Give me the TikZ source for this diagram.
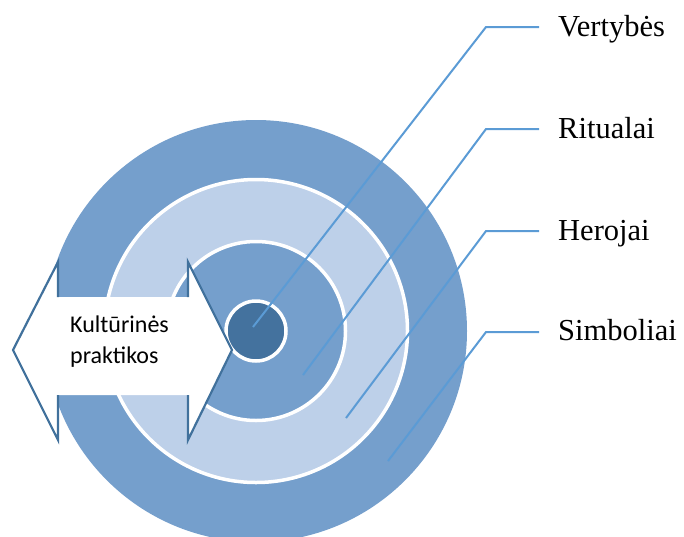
\documentclass[tikz,border=0pt]{standalone}
\usepackage{fontspec}
\setmainfont{Liberation Serif}
\newfontfamily\calfont{Carlito}
\definecolor{ringdark}{HTML}{759FCC}
\definecolor{ringlight}{HTML}{BDD0E9}
\definecolor{coreblue}{HTML}{44729E}
\definecolor{edgeblue}{HTML}{41719C}
\definecolor{leader}{HTML}{5B9BD5}
\tikzset{
  ring/.style={draw=white, line width=3.5pt},
  leaderline/.style={draw=leader, line width=2pt},
  layerlabel/.style={anchor=base west, inner sep=0pt, font=\fontsize{30.5}{36}\selectfont},
}
\begin{document}
\begin{tikzpicture}[x=1pt,y=-1pt]
  \useasboundingbox (0,0) rectangle (684,536);
  \clip (0,0) rectangle (684,536);
  % concentric layers
  \coordinate (c) at (256,331);
  \fill[ringdark] (c) circle (211);
  \path[ring, fill=ringlight] (c) circle (151.5);
  \path[ring, fill=ringdark] (c) circle (89.5);
  \path[ring, fill=coreblue] (c) circle (30);
  % double arrow with outlined heads
  \coordinate (aL) at (13,350);
  \coordinate (aR) at (232,350);
  \coordinate (lt) at (58,262);  \coordinate (lb) at (58,440);
  \coordinate (rt) at (188,262); \coordinate (rb) at (188,440);
  \coordinate (lbt) at (58,297); \coordinate (lbb) at (58,395);
  \coordinate (rbt) at (188,297); \coordinate (rbb) at (188,395);
  \fill[white] (aL) -- (lt) -- (lbt) -- (rbt) -- (rt) -- (aR) -- (rb) -- (rbb) -- (lbb) -- (lb) -- cycle;
  \draw[edgeblue, line width=2.2pt, line join=miter]
    (lbt) -- (lt) -- (aL) -- (lb) -- (lbb);
  \draw[edgeblue, line width=2.2pt, line join=miter]
    (rbt) -- (rt) -- (aR) -- (rb) -- (rbb);
  \node[anchor=base west, inner sep=0pt, align=left,
        font=\calfont\fontsize{24}{31}\selectfont] (kp) at (70,363)
    {Kultūrinės\\praktikos};
  % labels
  \node[layerlabel] (lv) at (558,36) {Vertybės};
  \node[layerlabel] (lr) at (558,138) {Ritualai};
  \node[layerlabel] (lh) at (558,240) {Herojai};
  \node[layerlabel] (ls) at (558,340) {Simboliai};
  % leader lines
  \coordinate (v0) at (253,327); \coordinate (v1) at (486,27);  \coordinate (v2) at (539,27);
  \coordinate (r0) at (303,375); \coordinate (r1) at (486,129); \coordinate (r2) at (539,129);
  \coordinate (h0) at (346,418); \coordinate (h1) at (486,231); \coordinate (h2) at (539,231);
  \coordinate (s0) at (388,461); \coordinate (s1) at (486,332); \coordinate (s2) at (539,332);
  \draw[leaderline] (v0) -- (v1) -- (v2);
  \draw[leaderline] (r0) -- (r1) -- (r2);
  \draw[leaderline] (h0) -- (h1) -- (h2);
  \draw[leaderline] (s0) -- (s1) -- (s2);
\end{tikzpicture}
\end{document}
